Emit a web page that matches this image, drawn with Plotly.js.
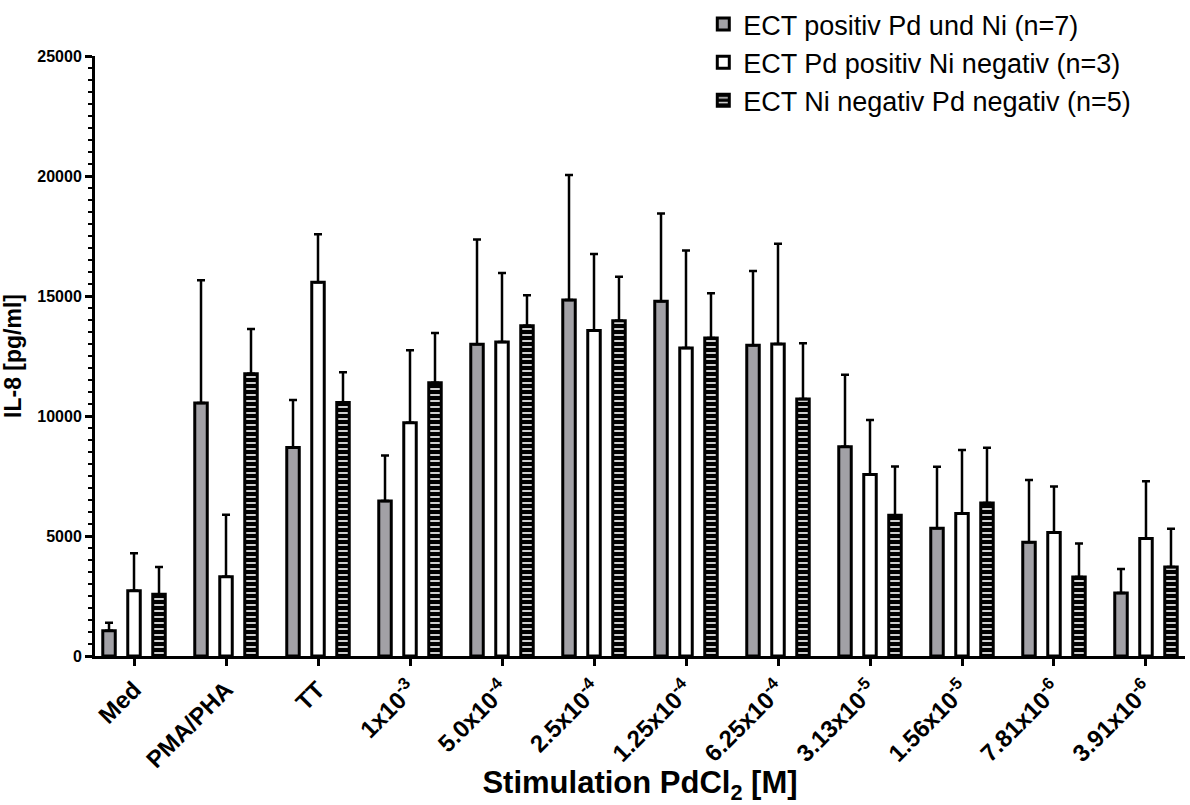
<!DOCTYPE html>
<html>
<head>
<meta charset="utf-8">
<script src="https://cdn.plot.ly/plotly-3.0.1.min.js"></script>
<style>html,body{margin:0;padding:0;background:#fff;}#chart{width:1190px;height:805px;}</style>
</head>
<body>
<div id="chart"></div>
<script>
const categories = ["Med", "PMA/PHA", "TT", "1x10<sup>-3</sup>", "5.0x10<sup>-4</sup>", "2.5x10<sup>-4</sup>",
  "1.25x10<sup>-4</sup>", "6.25x10<sup>-4</sup>", "3.13x10<sup>-5</sup>", "1.56x10<sup>-5</sup>",
  "7.81x10<sup>-6</sup>", "3.91x10<sup>-6</sup>"];

const seriesNames = ["ECT positiv Pd und Ni (n=7)", "ECT Pd positiv Ni negativ (n=3)", "ECT Ni negativ Pd negativ (n=5)"];

const posBoth = [1050, 10540, 8690, 6460, 12990, 14830, 14780, 12950, 8720, 5320, 4740, 2630];
const posBothSD = [340, 5120, 1980, 1890, 4360, 5210, 3660, 3090, 3000, 2570, 2590, 1000];

const pdPosNiNeg = [2720, 3300, 15570, 9720, 13080, 13560, 12830, 13000, 7560, 5940, 5150, 4900];
const pdPosNiNegSD = [1560, 2590, 2000, 3020, 2880, 3190, 4070, 4180, 2270, 2640, 1910, 2380];

const negBoth = [2570, 11760, 10560, 11390, 13760, 13970, 13250, 10710, 5860, 6375, 3290, 3710];
const negBothSD = [1140, 1870, 1260, 2070, 1270, 1830, 1860, 2320, 2040, 2300, 1400, 1590];

const zeros = categories.map(() => 0);
const font = '"Liberation Sans", Arial, Helvetica, sans-serif';

function errBar(sd) {
  return {type: 'data', array: sd, arrayminus: zeros, symmetric: false,
          color: '#000', thickness: 2.5, width: 4};
}

const traces = [
  {type: 'bar', name: seriesNames[0], x: categories, y: posBoth, error_y: errBar(posBothSD),
   marker: {color: '#a2a1a6', line: {color: '#000', width: 3}}},
  {type: 'bar', name: seriesNames[1], x: categories, y: pdPosNiNeg, error_y: errBar(pdPosNiNegSD),
   marker: {color: '#ffffff', line: {color: '#000', width: 3}}},
  {type: 'bar', name: seriesNames[2], x: categories, y: negBoth, error_y: errBar(negBothSD),
   marker: {color: '#000', line: {color: '#000', width: 3},
            pattern: {shape: '-', fgcolor: '#e6e6e6', bgcolor: '#000', size: 6, solidity: 0.3}}}
];

const layout = {
  width: 1190, height: 805,
  margin: {l: 95, r: 5, t: 56, b: 149, autoexpand: false},
  paper_bgcolor: '#fff', plot_bgcolor: '#fff',
  barmode: 'group', bargap: 0.185, bargroupgap: 0.5,
  font: {family: font, color: '#000'},
  showlegend: true,
  legend: {xref: 'container', yref: 'container', x: 0.591, xanchor: 'left', y: 1.013, yanchor: 'top',
           font: {family: font, size: 27, color: '#000'}, bgcolor: 'rgba(0,0,0,0)'},
  xaxis: {type: 'category', range: [-0.424, 11.424],
          showline: true, linewidth: 3, linecolor: '#000', mirror: false,
          ticks: 'outside', ticklen: 7, tickwidth: 3, tickcolor: '#000',
          tickangle: -45, tickfont: {family: font, size: 24, color: '#000', weight: 'bold'},
          showgrid: false, zeroline: false,
          title: {text: 'Stimulation PdCl<sub>2</sub> [M]', standoff: 12,
                  font: {family: font, size: 31, color: '#000', weight: 'bold'}}},
  yaxis: {range: [0, 25000], dtick: 5000, tick0: 0,
          showline: true, linewidth: 3, linecolor: '#000',
          ticks: 'outside', ticklen: 7, tickwidth: 3, tickcolor: '#000',
          minor: {dtick: 500, ticks: 'outside', ticklen: 4, tickwidth: 2, tickcolor: '#000', showgrid: false},
          tickfont: {family: font, size: 16, color: '#000', weight: 'bold'},
          showgrid: false, zeroline: false, separatethousands: false, tickformat: 'd',
          title: {text: 'IL-8 [pg/ml]', standoff: 10,
                  font: {family: font, size: 23, color: '#000', weight: 'bold'}}}
};

Plotly.newPlot('chart', traces, layout, {displayModeBar: false, staticPlot: true});
</script>
</body>
</html>
